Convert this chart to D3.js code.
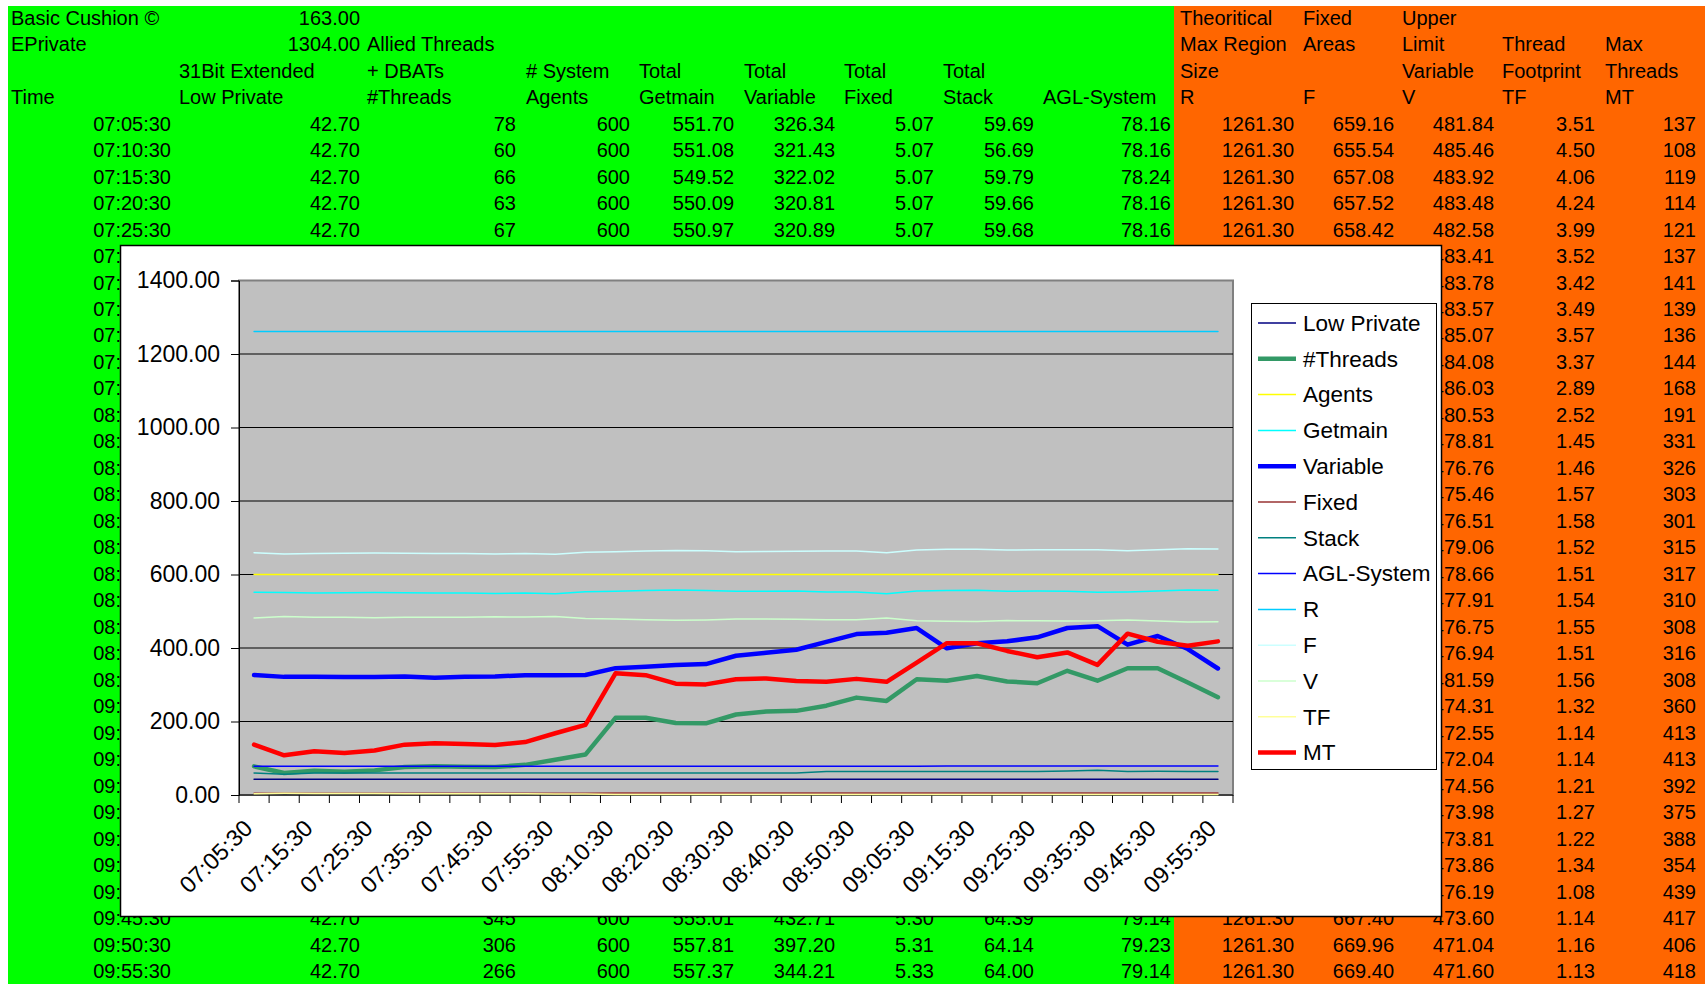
<!DOCTYPE html>
<html>
<head>
<meta charset="utf-8">
<script src="https://cdn.jsdelivr.net/npm/d3@7"></script>
<style>
body{margin:0;background:#fff;overflow:hidden}
svg{display:block;font-family:"Liberation Sans",Arial,sans-serif}
</style>
</head>
<body>
<svg id="canvas" width="1705" height="984"></svg>
<script>
// sheet values
let basicCushion = 163.00
let ePrivate = 1304.00

let times = ["07:05:30","07:10:30","07:15:30","07:20:30","07:25:30","07:30:30","07:35:30","07:40:30","07:45:30","07:50:30","07:55:30",
  "08:05:30","08:10:30","08:15:30","08:20:30","08:25:30","08:30:30","08:35:30","08:40:30","08:45:30","08:50:30","08:55:30",
  "09:05:30","09:10:30","09:15:30","09:20:30","09:25:30","09:30:30","09:35:30","09:40:30","09:45:30","09:50:30","09:55:30"]
let lowPrivate = [42.70,42.70,42.70,42.70,42.70,42.70,42.70,42.70,42.70,42.70,42.70,42.70,42.70,42.70,42.70,42.70,42.70,
  42.70,42.70,42.70,42.70,42.70,42.70,42.70,42.70,42.70,42.70,42.70,42.70,42.70,42.70,42.70,42.70]
let threads = [78,60,66,63,67,76,78,77,76,82,96,110,210,210,196,195,219,227,229,243,265,256,315,311,324,309,304,338,311,345,345,306,266]
let agents = [600,600,600,600,600,600,600,600,600,600,600,600,600,600,600,600,600,600,600,600,600,600,600,600,600,600,600,600,600,600,600,600,600]
let getmain = [551.70,551.08,549.52,550.09,550.97,550.12,549.73,549.96,548.45,549.46,547.46,552.90,554.52,556.52,557.79,556.77,554.14,
  554.49,555.08,552.48,552.22,547.58,554.81,556.53,557.01,554.52,555.07,554.10,551.54,552.61,555.01,557.81,557.37]
let variable = [326.34,321.43,322.02,320.81,320.89,322.52,318.94,321.85,322.61,325.73,326.12,326.40,345.18,349.07,353.42,356.26,378.83,
  386.95,395.31,416.84,437.92,441.28,454.25,399.13,413.02,418.24,429.06,454.41,459.33,409.17,432.71,397.20,344.21]
let fixed = [5.07,5.07,5.07,5.07,5.07,5.07,5.07,5.07,5.07,5.07,5.07,5.07,5.12,5.14,5.15,5.16,5.18,5.20,5.21,5.22,5.24,5.25,5.26,5.27,
  5.28,5.28,5.29,5.29,5.30,5.30,5.30,5.31,5.33]
let stack = [59.69,56.69,59.79,59.66,59.68,59.70,59.72,59.70,59.71,59.69,59.74,59.80,59.85,59.88,59.90,59.86,59.92,59.95,60.10,63.85,
  63.90,63.88,63.92,63.95,63.97,63.94,63.96,65.10,67.60,64.20,64.39,64.14,64.00]
let aglSystem = [78.16,78.16,78.24,78.16,78.16,78.16,78.20,78.16,78.16,78.24,78.16,78.16,78.20,78.16,78.16,78.24,78.16,78.16,78.20,
  78.16,78.16,78.24,78.16,79.14,79.14,79.23,79.14,79.14,79.23,79.14,79.14,79.23,79.14]
let regionR = [1261.30,1261.30,1261.30,1261.30,1261.30,1261.30,1261.30,1261.30,1261.30,1261.30,1261.30,1261.30,1261.30,1261.30,1261.30,
  1261.30,1261.30,1261.30,1261.30,1261.30,1261.30,1261.30,1261.30,1261.30,1261.30,1261.30,1261.30,1261.30,1261.30,1261.30,1261.30,1261.30,1261.30]
let fixedF = [659.16,655.54,657.08,657.52,658.42,657.59,657.22,657.43,655.93,656.92,654.97,660.47,662.19,664.24,665.54,664.49,661.94,
  662.34,663.09,664.25,664.06,659.41,666.69,668.45,668.96,666.44,667.02,667.19,667.14,664.81,667.40,669.96,669.40]
let upperV = [481.84,485.46,483.92,483.48,482.58,483.41,483.78,483.57,485.07,484.08,486.03,480.53,478.81,476.76,475.46,476.51,479.06,
  478.66,477.91,476.75,476.94,481.59,474.31,472.55,472.04,474.56,473.98,473.81,473.86,476.19,473.60,471.04,471.60]
let footprintTF = [3.51,4.50,4.06,4.24,3.99,3.52,3.42,3.49,3.57,3.37,2.89,2.52,1.45,1.46,1.57,1.58,1.52,1.51,1.54,1.55,1.51,1.56,1.32,
  1.14,1.14,1.21,1.27,1.22,1.34,1.08,1.14,1.16,1.13]
let maxMT = [137,108,119,114,121,137,141,139,136,144,168,191,331,326,303,301,315,317,310,308,316,308,360,413,413,392,375,388,354,439,417,406,418]

let yTicks = [0,200,400,600,800,1000,1200,1400]

let f2 = d3.format('.2f')
let canvas = d3.select('#canvas')

// chart object box (the sheet cells fully under it are not drawn)
let box = {left: 120.5, top: 245.5, right: 1441.5, bottom: 916.5}

// ---------- spreadsheet behind the chart ----------
canvas.append('rect').attr('x',8).attr('y',6).attr('width',1166).attr('height',978).attr('fill','#00ff00')
canvas.append('rect').attr('x',1174).attr('y',6).attr('width',531).attr('height',978).attr('fill','#ff6600')

let rowBase = r => 24.6 + r * 26.49
let sheet = canvas.append('g').attr('font-size', 20).attr('fill', '#000')

let headers = [
  [0, 11, 'Basic Cushion ©'], [1, 11, 'EPrivate'], [1, 367, 'Allied Threads'],
  [2, 179, '31Bit Extended'], [2, 367, '+ DBATs'], [2, 526, '# System'],
  [2, 639, 'Total'], [2, 744, 'Total'], [2, 844, 'Total'], [2, 943, 'Total'],
  [3, 11, 'Time'], [3, 179, 'Low Private'], [3, 367, '#Threads'], [3, 526, 'Agents'],
  [3, 639, 'Getmain'], [3, 744, 'Variable'], [3, 844, 'Fixed'], [3, 943, 'Stack'], [3, 1043, 'AGL-System'],
  [0, 1180, 'Theoritical'], [1, 1180, 'Max Region'], [2, 1180, 'Size'], [3, 1180, 'R'],
  [0, 1303, 'Fixed'], [1, 1303, 'Areas'], [3, 1303, 'F'],
  [0, 1402, 'Upper'], [1, 1402, 'Limit'], [2, 1402, 'Variable'], [3, 1402, 'V'],
  [1, 1502, 'Thread'], [2, 1502, 'Footprint'], [3, 1502, 'TF'],
  [1, 1605, 'Max'], [2, 1605, 'Threads'], [3, 1605, 'MT']
]
sheet.selectAll('text.head')
  .data(headers)
  .enter()
  .append('text')
  .attr('class','head')
  .attr('x', d => d[1])
  .attr('y', d => rowBase(d[0]))
  .text(d => d[2])

sheet.append('text').attr('x',360).attr('y',rowBase(0)).attr('text-anchor','end').text(f2(basicCushion))
sheet.append('text').attr('x',360).attr('y',rowBase(1)).attr('text-anchor','end').text(f2(ePrivate))

// x = right edge of the column, w = rough width of its values
let columns = [
  {x:171, w:80, vals:times, fmt:d => d},
  {x:360, w:50, vals:lowPrivate, fmt:f2},
  {x:516, w:34, vals:threads, fmt:d => d},
  {x:630, w:34, vals:agents, fmt:d => d},
  {x:734, w:62, vals:getmain, fmt:f2},
  {x:835, w:62, vals:variable, fmt:f2},
  {x:934, w:40, vals:fixed, fmt:f2},
  {x:1034, w:52, vals:stack, fmt:f2},
  {x:1171, w:52, vals:aglSystem, fmt:f2},
  {x:1294, w:72, vals:regionR, fmt:f2},
  {x:1394, w:62, vals:fixedF, fmt:f2},
  {x:1494, w:62, vals:upperV, fmt:f2},
  {x:1595, w:40, vals:footprintTF, fmt:f2},
  {x:1696, w:34, vals:maxMT, fmt:d => d}
]
let hidden = (col, i) => {
  let base = rowBase(i + 4)
  return col.x <= box.right && col.x - col.w >= box.left && base - 16 >= box.top && base + 4 <= box.bottom
}
columns.forEach(col => {
  sheet.append('g')
    .selectAll('text')
    .data(col.vals.map((v, i) => ({v, i})).filter(d => !hidden(col, d.i)))
    .enter()
    .append('text')
    .attr('x', col.x)
    .attr('y', d => rowBase(d.i + 4))
    .attr('text-anchor', 'end')
    .text(d => col.fmt(d.v))
})

// ---------- the chart object ----------
let chart = canvas.append('g').attr('font-size', 23)
chart.append('rect')
  .attr('x', box.left).attr('y', box.top).attr('width', box.right - box.left).attr('height', box.bottom - box.top)
  .attr('fill', '#fff').attr('stroke', '#000').attr('stroke-width', 1.5)

let plot = {left: 239, right: 1233, top: 280.5, bottom: 795}

let x = d3.scaleBand().domain(times).range([plot.left, plot.right])
let cx = t => x(t) + x.bandwidth() / 2
let y = d3.scaleLinear().domain([0, 1400]).range([plot.bottom, plot.top])

chart.append('rect')
  .attr('x', plot.left).attr('y', plot.top)
  .attr('width', plot.right - plot.left).attr('height', plot.bottom - plot.top)
  .attr('fill', '#c0c0c0').attr('stroke', '#808080').attr('stroke-width', 2)

chart.append('g')
  .selectAll('line')
  .data(yTicks.slice(1, -1))
  .enter()
  .append('line')
  .attr('x1', plot.left).attr('x2', plot.right)
  .attr('y1', d => y(d)).attr('y2', d => y(d))
  .attr('stroke', '#000').attr('stroke-width', 1)

let yAxis = chart.append('g')
  .attr('transform', `translate(${plot.left},0)`)
  .call(d3.axisLeft(y).tickValues(yTicks).tickFormat(f2).tickSize(8).tickPadding(11))
yAxis.selectAll('text').attr('font-size', 23).attr('font-family', '"Liberation Sans",Arial,sans-serif').attr('fill', '#000')
yAxis.selectAll('line, path').attr('stroke', '#000')

let xAxis = chart.append('g').attr('transform', `translate(0,${plot.bottom})`)
xAxis.append('line').attr('x1', plot.left).attr('x2', plot.right).attr('stroke', '#000')
xAxis.selectAll('line.tick')
  .data(times.concat(['end']))
  .enter()
  .append('line')
  .attr('class', 'tick')
  .attr('x1', (d, i) => i < times.length ? x(d) : plot.right)
  .attr('x2', (d, i) => i < times.length ? x(d) : plot.right)
  .attr('y1', 0).attr('y2', 8)
  .attr('stroke', '#000')
xAxis.selectAll('text')
  .data(times.filter((d, i) => i % 2 === 0))
  .enter()
  .append('text')
  .attr('transform', d => `translate(${cx(d) - 6},${29}) rotate(-45)`)
  .attr('text-anchor', 'end')
  .attr('dy', '0.35em')
  .attr('font-size', 23.5)
  .text(d => d)

let series = [
  {name:'Low Private', vals:lowPrivate, color:'#000080', w:1.5},
  {name:'#Threads', vals:threads, color:'#339966', w:4.5},
  {name:'Agents', vals:agents, color:'#ffff00', w:1.5},
  {name:'Getmain', vals:getmain, color:'#00ffff', w:1.5},
  {name:'Variable', vals:variable, color:'#0000ff', w:4.5},
  {name:'Fixed', vals:fixed, color:'#993333', w:1.5},
  {name:'Stack', vals:stack, color:'#008080', w:1.5},
  {name:'AGL-System', vals:aglSystem, color:'#0000ff', w:1.5},
  {name:'R', vals:regionR, color:'#00ccff', w:1.5},
  {name:'F', vals:fixedF, color:'#ccffff', w:1.5},
  {name:'V', vals:upperV, color:'#ccffcc', w:1.5},
  {name:'TF', vals:footprintTF, color:'#ffff99', w:1.5},
  {name:'MT', vals:maxMT, color:'#ff0000', w:4.5}
]

let line = d3.line()
  .x((d, i) => cx(times[i]))
  .y(d => y(d))

chart.append('g')
  .selectAll('path')
  .data(series)
  .enter()
  .append('path')
  .attr('d', s => line(s.vals))
  .attr('fill', 'none')
  .attr('stroke', s => s.color)
  .attr('stroke-width', s => s.w)
  .attr('stroke-linejoin', 'round')
  .attr('stroke-linecap', 'round')

// legend
let legend = chart.append('g').attr('font-size', 22.5)
legend.append('rect')
  .attr('x', 1251.5).attr('y', 303.5).attr('width', 185).attr('height', 466)
  .attr('fill', '#fff').attr('stroke', '#000').attr('stroke-width', 1)
let item = legend.selectAll('g.item')
  .data(series)
  .enter()
  .append('g')
  .attr('class', 'item')
  .attr('transform', (d, i) => `translate(0,${323 + i * 35.8})`)
item.append('line')
  .attr('x1', 1258).attr('x2', 1296)
  .attr('stroke', d => d.color)
  .attr('stroke-width', d => d.w)
item.append('text')
  .attr('x', 1303)
  .attr('dy', '0.35em')
  .text(d => d.name)
</script>
</body>
</html>
